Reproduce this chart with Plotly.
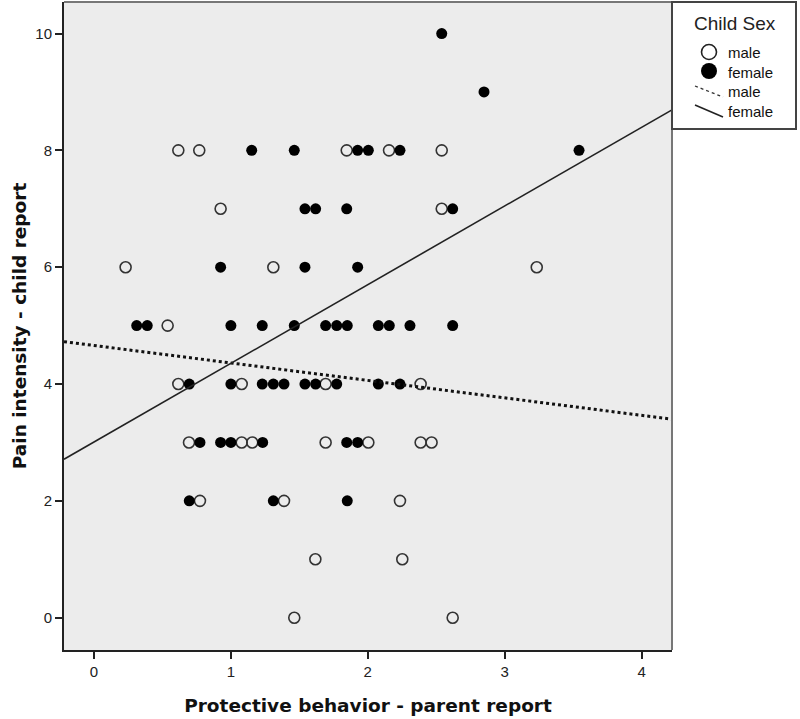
import plotly.graph_objects as go

# ---- data ----
male_x = [0.616, 0.769, 1.846, 2.155, 2.54,
          0.925, 2.54,
          0.231, 1.31, 3.234,
          0.538,
          0.616, 1.079, 1.692, 2.386,
          0.694, 1.079, 1.156, 1.692, 2.004, 2.386, 2.466,
          0.774, 1.388, 2.235,
          1.617, 2.252,
          1.463, 2.62]
male_y = [8, 8, 8, 8, 8,
          7, 7,
          6, 6, 6,
          5,
          4, 4, 4, 4,
          3, 3, 3, 3, 3, 3, 3,
          2, 2, 2,
          1, 1,
          0, 0]

female_x = [2.54,
            2.849,
            1.152, 1.463, 1.926, 2.004, 2.235, 3.543,
            1.541, 1.619, 1.846, 2.62,
            0.925, 1.541, 1.926,
            0.312, 0.389, 1.0, 1.229, 1.463, 1.692, 1.773, 1.85, 2.077, 2.157, 2.308, 2.62,
            0.696, 1.0, 1.229, 1.31, 1.388, 1.541, 1.619, 1.773, 2.077, 2.235,
            0.774, 0.925, 1.0, 1.232, 1.846, 1.926,
            0.696, 1.31, 1.85]
female_y = [10,
            9,
            8, 8, 8, 8, 8, 8,
            7, 7, 7, 7,
            6, 6, 6,
            5, 5, 5, 5, 5, 5, 5, 5, 5, 5, 5, 5,
            4, 4, 4, 4, 4, 4, 4, 4, 4, 4,
            3, 3, 3, 3, 3, 3,
            2, 2, 2]

# fitted lines (intercept, slope)
male_fit = (4.660, -0.299)
female_fit = (3.007, 1.347)

x_range = [-0.219, 4.222]
y_range = [-0.553, 10.54]
x_ticks = [0, 1, 2, 3, 4]
y_ticks = [0, 2, 4, 6, 8, 10]

legend_title = "Child Sex"
legend_labels = ["male", "female", "male", "female"]

W, H = 800, 719
ML, MR, MT, MB = 64, 128, 2, 69
PW, PH = W - ML - MR, H - MT - MB


def px(x):
    return (x - ML) / PW


def py(y):
    return (H - MB - y) / PH


fig = go.Figure()

fig.add_trace(go.Scatter(
    x=male_x, y=male_y, mode="markers", name="male", showlegend=False,
    marker=dict(symbol="circle-open", size=11, color="#333333",
                line=dict(width=1.6, color="#333333")),
))
fig.add_trace(go.Scatter(
    x=female_x, y=female_y, mode="markers", name="female", showlegend=False,
    marker=dict(symbol="circle", size=11, color="#000000",
                line=dict(width=0)),
))

fx = [x_range[0], x_range[1]]
fig.add_trace(go.Scatter(
    x=fx, y=[male_fit[0] + male_fit[1] * v for v in fx],
    mode="lines", name="male", showlegend=False,
    line=dict(color="#111111", width=3, dash="dot"),
))
fig.add_trace(go.Scatter(
    x=fx, y=[female_fit[0] + female_fit[1] * v for v in fx],
    mode="lines", name="female", showlegend=False,
    line=dict(color="#222222", width=1.6),
))

font_family = "Liberation Sans, Arial, sans-serif"
title_family = "DejaVu Sans, Liberation Sans, Arial, sans-serif"

shapes = [
    # top and right frame of the plot area
    dict(type="line", xref="paper", yref="paper", x0=0, x1=1, y0=1, y1=1,
         line=dict(color="#777777", width=2)),
    dict(type="line", xref="paper", yref="paper", x0=1, x1=1, y0=0, y1=1,
         line=dict(color="#777777", width=2)),
    # legend box
    dict(type="rect", xref="paper", yref="paper",
         x0=px(672), x1=px(796), y0=py(129), y1=py(2),
         line=dict(color="#444444", width=2), fillcolor="white", layer="above"),
    # legend symbols
    dict(type="circle", xref="paper", yref="paper", xsizemode="pixel", ysizemode="pixel",
         xanchor=px(709), yanchor=py(52), x0=-7.5, x1=7.5, y0=-7.5, y1=7.5,
         line=dict(color="#222222", width=1.6), fillcolor="white", layer="above"),
    dict(type="circle", xref="paper", yref="paper", xsizemode="pixel", ysizemode="pixel",
         xanchor=px(709), yanchor=py(71), x0=-8, x1=8, y0=-8, y1=8,
         line=dict(color="#000000", width=0), fillcolor="#000000", layer="above"),
    dict(type="line", xref="paper", yref="paper",
         x0=px(695), x1=px(723), y0=py(86), y1=py(97),
         line=dict(color="#333333", width=1.3, dash="dot"), layer="above"),
    dict(type="line", xref="paper", yref="paper",
         x0=px(695), x1=px(723), y0=py(105), y1=py(117),
         line=dict(color="#222222", width=1.6), layer="above"),
]

annotations = [
    dict(text=legend_title, xref="paper", yref="paper", x=px(735), y=py(23),
         xanchor="center", yanchor="middle", showarrow=False,
         font=dict(family=font_family, size=19, color="#222222")),
]
for lab, yy in zip(legend_labels, [52, 72, 92, 112]):
    annotations.append(dict(text=lab, xref="paper", yref="paper", x=px(726), y=py(yy),
                            xanchor="left", yanchor="middle", showarrow=False,
                            font=dict(family=font_family, size=15, color="#111111")))

fig.update_layout(
    width=W, height=H,
    margin=dict(l=ML, r=MR, t=MT, b=MB, autoexpand=False),
    paper_bgcolor="white",
    plot_bgcolor="#ececec",
    showlegend=False,
    font=dict(family=font_family, color="#222222", size=15),
    xaxis=dict(
        range=x_range, tickvals=x_ticks, ticktext=[str(t) for t in x_ticks],
        showgrid=False, zeroline=False, automargin=False,
        showline=True, linecolor="#222222", linewidth=2, mirror=False,
        ticks="outside", ticklen=7, tickwidth=2, tickcolor="#222222",
        tickfont=dict(size=15, color="#222222"),
        title=dict(text="<b>Protective behavior - parent report</b>",
                   font=dict(family=title_family, size=18.5, color="#111111"),
                   standoff=20),
    ),
    yaxis=dict(
        range=y_range, tickvals=y_ticks, ticktext=[str(t) for t in y_ticks],
        showgrid=False, zeroline=False, automargin=False,
        showline=True, linecolor="#222222", linewidth=2, mirror=False,
        ticks="outside", ticklen=7, tickwidth=2, tickcolor="#222222",
        tickfont=dict(size=15, color="#222222"),
        title=dict(text="<b>Pain intensity - child report</b>",
                   font=dict(family=title_family, size=18.5, color="#111111"),
                   standoff=4),
    ),
    shapes=shapes,
    annotations=annotations,
)

fig.write_html("out.html",
               config={"displayModeBar": False},
               post_script="document.body.style.margin='0px';document.body.style.overflow='hidden';")
